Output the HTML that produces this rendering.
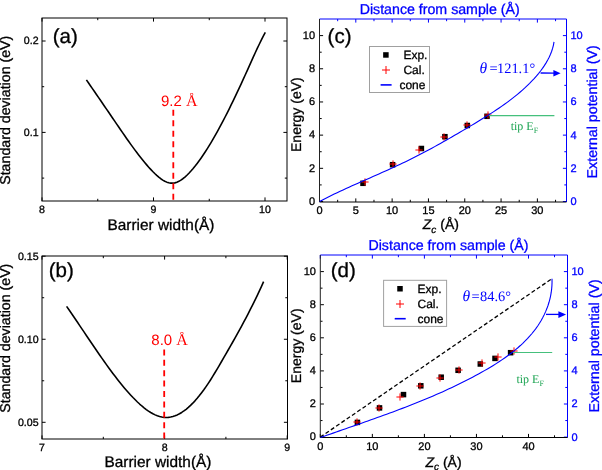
<!DOCTYPE html>
<html><head><meta charset="utf-8"><style>
html,body{margin:0;padding:0;background:#fff;width:602px;height:470px;overflow:hidden}
svg{display:block;will-change:transform}
text{stroke-width:0.3px}
</style></head><body>
<svg width="602" height="470" viewBox="0 0 602 470" text-rendering="geometricPrecision">
<rect width="602" height="470" fill="#fff"/>
<line x1="42.00" y1="201.00" x2="42.00" y2="197.40" stroke="#000" stroke-width="1" />
<line x1="42.00" y1="18.00" x2="42.00" y2="21.60" stroke="#000" stroke-width="1" />
<text x="42.00" y="213.20" font-size="10.6" fill="#000" text-anchor="middle" font-family="Liberation Sans, sans-serif"  stroke="#000">8</text>
<line x1="153.50" y1="201.00" x2="153.50" y2="197.40" stroke="#000" stroke-width="1" />
<line x1="153.50" y1="18.00" x2="153.50" y2="21.60" stroke="#000" stroke-width="1" />
<text x="153.50" y="213.20" font-size="10.6" fill="#000" text-anchor="middle" font-family="Liberation Sans, sans-serif"  stroke="#000">9</text>
<line x1="265.00" y1="201.00" x2="265.00" y2="197.40" stroke="#000" stroke-width="1" />
<line x1="265.00" y1="18.00" x2="265.00" y2="21.60" stroke="#000" stroke-width="1" />
<text x="265.00" y="213.20" font-size="10.6" fill="#000" text-anchor="middle" font-family="Liberation Sans, sans-serif"  stroke="#000">10</text>
<line x1="97.75" y1="201.00" x2="97.75" y2="198.80" stroke="#000" stroke-width="1" />
<line x1="97.75" y1="18.00" x2="97.75" y2="20.20" stroke="#000" stroke-width="1" />
<line x1="209.25" y1="201.00" x2="209.25" y2="198.80" stroke="#000" stroke-width="1" />
<line x1="209.25" y1="18.00" x2="209.25" y2="20.20" stroke="#000" stroke-width="1" />
<line x1="42.00" y1="132.40" x2="45.60" y2="132.40" stroke="#000" stroke-width="1" />
<line x1="287.00" y1="132.40" x2="283.40" y2="132.40" stroke="#000" stroke-width="1" />
<text x="38.60" y="135.60" font-size="10.6" fill="#000" text-anchor="end" font-family="Liberation Sans, sans-serif"  stroke="#000">0.1</text>
<line x1="42.00" y1="41.00" x2="45.60" y2="41.00" stroke="#000" stroke-width="1" />
<line x1="287.00" y1="41.00" x2="283.40" y2="41.00" stroke="#000" stroke-width="1" />
<text x="38.60" y="44.20" font-size="10.6" fill="#000" text-anchor="end" font-family="Liberation Sans, sans-serif"  stroke="#000">0.2</text>
<line x1="42.00" y1="178.10" x2="44.20" y2="178.10" stroke="#000" stroke-width="1" />
<line x1="287.00" y1="178.10" x2="284.80" y2="178.10" stroke="#000" stroke-width="1" />
<line x1="42.00" y1="86.70" x2="44.20" y2="86.70" stroke="#000" stroke-width="1" />
<line x1="287.00" y1="86.70" x2="284.80" y2="86.70" stroke="#000" stroke-width="1" />
<rect x="42" y="18" width="245" height="183" fill="none" stroke="#000" stroke-width="1"/>
<text x="161.00" y="229.60" font-size="15.4" fill="#000" text-anchor="middle" font-family="Liberation Sans, sans-serif"  stroke="#000">Barrier width(Å)</text>
<text transform="translate(10.3,110.25) rotate(-90)" font-size="14.2" text-anchor="middle" font-family="Liberation Sans, sans-serif" stroke="#000">Standard deviation (eV)</text>
<text x="52.80" y="43.20" font-size="20.5" fill="#000" text-anchor="start" font-family="Liberation Sans, sans-serif"  stroke="#000">(a)</text>
<path d="M86.40,79.89 L88.41,82.79 L90.42,85.70 L92.43,88.61 L94.44,91.53 L96.45,94.46 L98.46,97.38 L100.47,100.32 L102.48,103.25 L104.49,106.19 L106.50,109.13 L108.51,112.07 L110.52,115.02 L112.53,117.97 L114.54,120.92 L116.55,123.86 L118.56,126.81 L120.57,129.74 L122.58,132.67 L124.59,135.57 L126.60,138.45 L128.61,141.30 L130.62,144.12 L132.63,146.90 L134.64,149.63 L136.65,152.32 L138.66,154.96 L140.67,157.53 L142.68,160.05 L144.69,162.50 L146.70,164.87 L148.71,167.17 L150.72,169.38 L152.73,171.51 L154.74,173.53 L156.75,175.42 L158.76,177.16 L160.77,178.73 L162.78,180.09 L164.79,181.24 L166.80,182.14 L168.81,182.78 L170.82,183.13 L172.83,183.17 L174.84,182.88 L176.86,182.26 L178.87,181.35 L180.88,180.17 L182.89,178.74 L184.90,177.08 L186.91,175.22 L188.92,173.19 L190.93,171.00 L192.94,168.68 L194.95,166.23 L196.96,163.66 L198.97,160.97 L200.98,158.17 L202.99,155.26 L205.00,152.24 L207.01,149.12 L209.02,145.90 L211.03,142.59 L213.04,139.18 L215.05,135.68 L217.06,132.10 L219.07,128.44 L221.08,124.69 L223.09,120.88 L225.10,117.00 L227.11,113.05 L229.12,109.03 L231.13,104.96 L233.14,100.83 L235.15,96.65 L237.16,92.41 L239.17,88.13 L241.18,83.80 L243.19,79.43 L245.20,75.02 L247.21,70.57 L249.22,66.10 L251.23,61.62 L253.24,57.17 L255.25,52.78 L257.26,48.46 L259.27,44.25 L261.28,40.16 L263.29,36.24 L265.30,32.49" fill="none" stroke="#000" stroke-width="1.6" stroke-linejoin="round"/>
<line x1="173.3" y1="109.8" x2="173.3" y2="201" stroke="#ff0000" stroke-width="1.8" stroke-dasharray="6,4.5"/>
<text x="161.0" y="106.1" font-size="15" fill="#ff0000" font-family="Liberation Sans, sans-serif">9.2 <tspan font-family="Liberation Serif, serif" font-size="16">Å</tspan></text>
<line x1="42.00" y1="439.00" x2="42.00" y2="435.40" stroke="#000" stroke-width="1" />
<line x1="42.00" y1="256.00" x2="42.00" y2="259.60" stroke="#000" stroke-width="1" />
<text x="42.00" y="451.00" font-size="10.6" fill="#000" text-anchor="middle" font-family="Liberation Sans, sans-serif"  stroke="#000">7</text>
<line x1="164.60" y1="439.00" x2="164.60" y2="435.40" stroke="#000" stroke-width="1" />
<line x1="164.60" y1="256.00" x2="164.60" y2="259.60" stroke="#000" stroke-width="1" />
<text x="164.60" y="451.00" font-size="10.6" fill="#000" text-anchor="middle" font-family="Liberation Sans, sans-serif"  stroke="#000">8</text>
<line x1="287.20" y1="439.00" x2="287.20" y2="435.40" stroke="#000" stroke-width="1" />
<line x1="287.20" y1="256.00" x2="287.20" y2="259.60" stroke="#000" stroke-width="1" />
<text x="287.20" y="451.00" font-size="10.6" fill="#000" text-anchor="middle" font-family="Liberation Sans, sans-serif"  stroke="#000">9</text>
<line x1="103.30" y1="439.00" x2="103.30" y2="436.80" stroke="#000" stroke-width="1" />
<line x1="103.30" y1="256.00" x2="103.30" y2="258.20" stroke="#000" stroke-width="1" />
<line x1="225.90" y1="439.00" x2="225.90" y2="436.80" stroke="#000" stroke-width="1" />
<line x1="225.90" y1="256.00" x2="225.90" y2="258.20" stroke="#000" stroke-width="1" />
<line x1="42.00" y1="422.30" x2="45.60" y2="422.30" stroke="#000" stroke-width="1" />
<line x1="287.50" y1="422.30" x2="283.90" y2="422.30" stroke="#000" stroke-width="1" />
<text x="38.60" y="425.80" font-size="10.6" fill="#000" text-anchor="end" font-family="Liberation Sans, sans-serif"  stroke="#000">0.05</text>
<line x1="42.00" y1="339.25" x2="45.60" y2="339.25" stroke="#000" stroke-width="1" />
<line x1="287.50" y1="339.25" x2="283.90" y2="339.25" stroke="#000" stroke-width="1" />
<text x="38.60" y="342.75" font-size="10.6" fill="#000" text-anchor="end" font-family="Liberation Sans, sans-serif"  stroke="#000">0.10</text>
<line x1="42.00" y1="256.20" x2="45.60" y2="256.20" stroke="#000" stroke-width="1" />
<line x1="287.50" y1="256.20" x2="283.90" y2="256.20" stroke="#000" stroke-width="1" />
<text x="38.60" y="259.70" font-size="10.6" fill="#000" text-anchor="end" font-family="Liberation Sans, sans-serif"  stroke="#000">0.15</text>
<line x1="42.00" y1="380.77" x2="44.20" y2="380.77" stroke="#000" stroke-width="1" />
<line x1="287.50" y1="380.77" x2="285.30" y2="380.77" stroke="#000" stroke-width="1" />
<line x1="42.00" y1="297.72" x2="44.20" y2="297.72" stroke="#000" stroke-width="1" />
<line x1="287.50" y1="297.72" x2="285.30" y2="297.72" stroke="#000" stroke-width="1" />
<rect x="42" y="256" width="245.5" height="183" fill="none" stroke="#000" stroke-width="1"/>
<text x="158.00" y="466.70" font-size="15.4" fill="#000" text-anchor="middle" font-family="Liberation Sans, sans-serif"  stroke="#000">Barrier width(Å)</text>
<text transform="translate(10.3,338.2) rotate(-90)" font-size="14.2" text-anchor="middle" font-family="Liberation Sans, sans-serif" stroke="#000">Standard deviation (eV)</text>
<text x="48.80" y="277.00" font-size="20.5" fill="#000" text-anchor="start" font-family="Liberation Sans, sans-serif"  stroke="#000">(b)</text>
<path d="M66.60,306.39 L68.81,309.57 L71.03,312.79 L73.24,316.02 L75.45,319.28 L77.67,322.55 L79.88,325.83 L82.09,329.12 L84.31,332.41 L86.52,335.70 L88.73,338.99 L90.95,342.27 L93.16,345.53 L95.38,348.78 L97.59,352.01 L99.80,355.21 L102.02,358.38 L104.23,361.52 L106.44,364.63 L108.66,367.69 L110.87,370.71 L113.08,373.68 L115.30,376.59 L117.51,379.45 L119.72,382.25 L121.94,384.98 L124.15,387.65 L126.36,390.24 L128.58,392.75 L130.79,395.19 L133.00,397.54 L135.22,399.79 L137.43,401.96 L139.64,404.03 L141.86,405.99 L144.07,407.82 L146.29,409.53 L148.50,411.10 L150.71,412.52 L152.93,413.79 L155.14,414.88 L157.35,415.80 L159.57,416.53 L161.78,417.06 L163.99,417.38 L166.21,417.49 L168.42,417.38 L170.63,417.07 L172.85,416.54 L175.06,415.82 L177.27,414.89 L179.49,413.77 L181.70,412.46 L183.91,410.96 L186.13,409.28 L188.34,407.43 L190.56,405.40 L192.77,403.19 L194.98,400.83 L197.20,398.30 L199.41,395.61 L201.62,392.76 L203.84,389.77 L206.05,386.63 L208.26,383.35 L210.48,379.94 L212.69,376.41 L214.90,372.79 L217.12,369.08 L219.33,365.32 L221.54,361.52 L223.76,357.70 L225.97,353.86 L228.18,350.01 L230.40,346.15 L232.61,342.26 L234.82,338.33 L237.04,334.37 L239.25,330.37 L241.47,326.31 L243.68,322.20 L245.89,318.03 L248.11,313.79 L250.32,309.48 L252.53,305.08 L254.75,300.60 L256.96,296.03 L259.17,291.36 L261.39,286.59 L263.60,281.70" fill="none" stroke="#000" stroke-width="1.6" stroke-linejoin="round"/>
<line x1="164.2" y1="349.4" x2="164.2" y2="438.8" stroke="#ff0000" stroke-width="1.8" stroke-dasharray="6,4.4"/>
<text x="151.3" y="345.1" font-size="15" fill="#ff0000" font-family="Liberation Sans, sans-serif">8.0 <tspan font-family="Liberation Serif, serif" font-size="16">Å</tspan></text>
<line x1="319.50" y1="202.00" x2="319.50" y2="198.40" stroke="#000" stroke-width="1" />
<text x="319.50" y="214.00" font-size="11" fill="#000" text-anchor="middle" font-family="Liberation Sans, sans-serif"  stroke="#000">0</text>
<line x1="319.50" y1="19.00" x2="319.50" y2="22.60" stroke="#0000ff" stroke-width="1" />
<line x1="355.81" y1="202.00" x2="355.81" y2="198.40" stroke="#000" stroke-width="1" />
<text x="355.81" y="214.00" font-size="11" fill="#000" text-anchor="middle" font-family="Liberation Sans, sans-serif"  stroke="#000">5</text>
<line x1="355.81" y1="19.00" x2="355.81" y2="22.60" stroke="#0000ff" stroke-width="1" />
<line x1="392.13" y1="202.00" x2="392.13" y2="198.40" stroke="#000" stroke-width="1" />
<text x="392.13" y="214.00" font-size="11" fill="#000" text-anchor="middle" font-family="Liberation Sans, sans-serif"  stroke="#000">10</text>
<line x1="392.13" y1="19.00" x2="392.13" y2="22.60" stroke="#0000ff" stroke-width="1" />
<line x1="428.44" y1="202.00" x2="428.44" y2="198.40" stroke="#000" stroke-width="1" />
<text x="428.44" y="214.00" font-size="11" fill="#000" text-anchor="middle" font-family="Liberation Sans, sans-serif"  stroke="#000">15</text>
<line x1="428.44" y1="19.00" x2="428.44" y2="22.60" stroke="#0000ff" stroke-width="1" />
<line x1="464.76" y1="202.00" x2="464.76" y2="198.40" stroke="#000" stroke-width="1" />
<text x="464.76" y="214.00" font-size="11" fill="#000" text-anchor="middle" font-family="Liberation Sans, sans-serif"  stroke="#000">20</text>
<line x1="464.76" y1="19.00" x2="464.76" y2="22.60" stroke="#0000ff" stroke-width="1" />
<line x1="501.07" y1="202.00" x2="501.07" y2="198.40" stroke="#000" stroke-width="1" />
<text x="501.07" y="214.00" font-size="11" fill="#000" text-anchor="middle" font-family="Liberation Sans, sans-serif"  stroke="#000">25</text>
<line x1="501.07" y1="19.00" x2="501.07" y2="22.60" stroke="#0000ff" stroke-width="1" />
<line x1="537.39" y1="202.00" x2="537.39" y2="198.40" stroke="#000" stroke-width="1" />
<text x="537.39" y="214.00" font-size="11" fill="#000" text-anchor="middle" font-family="Liberation Sans, sans-serif"  stroke="#000">30</text>
<line x1="537.39" y1="19.00" x2="537.39" y2="22.60" stroke="#0000ff" stroke-width="1" />
<line x1="337.66" y1="202.00" x2="337.66" y2="199.80" stroke="#000" stroke-width="1" />
<line x1="337.66" y1="19.00" x2="337.66" y2="21.20" stroke="#0000ff" stroke-width="1" />
<line x1="373.97" y1="202.00" x2="373.97" y2="199.80" stroke="#000" stroke-width="1" />
<line x1="373.97" y1="19.00" x2="373.97" y2="21.20" stroke="#0000ff" stroke-width="1" />
<line x1="410.29" y1="202.00" x2="410.29" y2="199.80" stroke="#000" stroke-width="1" />
<line x1="410.29" y1="19.00" x2="410.29" y2="21.20" stroke="#0000ff" stroke-width="1" />
<line x1="446.60" y1="202.00" x2="446.60" y2="199.80" stroke="#000" stroke-width="1" />
<line x1="446.60" y1="19.00" x2="446.60" y2="21.20" stroke="#0000ff" stroke-width="1" />
<line x1="482.92" y1="202.00" x2="482.92" y2="199.80" stroke="#000" stroke-width="1" />
<line x1="482.92" y1="19.00" x2="482.92" y2="21.20" stroke="#0000ff" stroke-width="1" />
<line x1="519.23" y1="202.00" x2="519.23" y2="199.80" stroke="#000" stroke-width="1" />
<line x1="519.23" y1="19.00" x2="519.23" y2="21.20" stroke="#0000ff" stroke-width="1" />
<line x1="555.55" y1="202.00" x2="555.55" y2="199.80" stroke="#000" stroke-width="1" />
<line x1="555.55" y1="19.00" x2="555.55" y2="21.20" stroke="#0000ff" stroke-width="1" />
<line x1="319.50" y1="201.50" x2="323.10" y2="201.50" stroke="#000" stroke-width="1" />
<text x="315.10" y="204.80" font-size="11" fill="#000" text-anchor="end" font-family="Liberation Sans, sans-serif"  stroke="#000">0</text>
<line x1="566.50" y1="201.50" x2="562.90" y2="201.50" stroke="#0000ff" stroke-width="1" />
<text x="570.50" y="204.90" font-size="11" fill="#0000ff" text-anchor="start" font-family="Liberation Sans, sans-serif"  stroke="#0000ff">0</text>
<line x1="319.50" y1="168.32" x2="323.10" y2="168.32" stroke="#000" stroke-width="1" />
<text x="315.10" y="171.62" font-size="11" fill="#000" text-anchor="end" font-family="Liberation Sans, sans-serif"  stroke="#000">2</text>
<line x1="566.50" y1="168.32" x2="562.90" y2="168.32" stroke="#0000ff" stroke-width="1" />
<text x="570.50" y="171.72" font-size="11" fill="#0000ff" text-anchor="start" font-family="Liberation Sans, sans-serif"  stroke="#0000ff">2</text>
<line x1="319.50" y1="135.14" x2="323.10" y2="135.14" stroke="#000" stroke-width="1" />
<text x="315.10" y="138.44" font-size="11" fill="#000" text-anchor="end" font-family="Liberation Sans, sans-serif"  stroke="#000">4</text>
<line x1="566.50" y1="135.14" x2="562.90" y2="135.14" stroke="#0000ff" stroke-width="1" />
<text x="570.50" y="138.54" font-size="11" fill="#0000ff" text-anchor="start" font-family="Liberation Sans, sans-serif"  stroke="#0000ff">4</text>
<line x1="319.50" y1="101.96" x2="323.10" y2="101.96" stroke="#000" stroke-width="1" />
<text x="315.10" y="105.26" font-size="11" fill="#000" text-anchor="end" font-family="Liberation Sans, sans-serif"  stroke="#000">6</text>
<line x1="566.50" y1="101.96" x2="562.90" y2="101.96" stroke="#0000ff" stroke-width="1" />
<text x="570.50" y="105.36" font-size="11" fill="#0000ff" text-anchor="start" font-family="Liberation Sans, sans-serif"  stroke="#0000ff">6</text>
<line x1="319.50" y1="68.78" x2="323.10" y2="68.78" stroke="#000" stroke-width="1" />
<text x="315.10" y="72.08" font-size="11" fill="#000" text-anchor="end" font-family="Liberation Sans, sans-serif"  stroke="#000">8</text>
<line x1="566.50" y1="68.78" x2="562.90" y2="68.78" stroke="#0000ff" stroke-width="1" />
<text x="570.50" y="72.18" font-size="11" fill="#0000ff" text-anchor="start" font-family="Liberation Sans, sans-serif"  stroke="#0000ff">8</text>
<line x1="319.50" y1="35.60" x2="323.10" y2="35.60" stroke="#000" stroke-width="1" />
<text x="315.10" y="38.90" font-size="11" fill="#000" text-anchor="end" font-family="Liberation Sans, sans-serif"  stroke="#000">10</text>
<line x1="566.50" y1="35.60" x2="562.90" y2="35.60" stroke="#0000ff" stroke-width="1" />
<text x="570.50" y="39.00" font-size="11" fill="#0000ff" text-anchor="start" font-family="Liberation Sans, sans-serif"  stroke="#0000ff">10</text>
<line x1="319.50" y1="184.91" x2="321.70" y2="184.91" stroke="#000" stroke-width="1" />
<line x1="566.50" y1="184.91" x2="564.30" y2="184.91" stroke="#0000ff" stroke-width="1" />
<line x1="319.50" y1="151.73" x2="321.70" y2="151.73" stroke="#000" stroke-width="1" />
<line x1="566.50" y1="151.73" x2="564.30" y2="151.73" stroke="#0000ff" stroke-width="1" />
<line x1="319.50" y1="118.55" x2="321.70" y2="118.55" stroke="#000" stroke-width="1" />
<line x1="566.50" y1="118.55" x2="564.30" y2="118.55" stroke="#0000ff" stroke-width="1" />
<line x1="319.50" y1="85.37" x2="321.70" y2="85.37" stroke="#000" stroke-width="1" />
<line x1="566.50" y1="85.37" x2="564.30" y2="85.37" stroke="#0000ff" stroke-width="1" />
<line x1="319.50" y1="52.19" x2="321.70" y2="52.19" stroke="#000" stroke-width="1" />
<line x1="566.50" y1="52.19" x2="564.30" y2="52.19" stroke="#0000ff" stroke-width="1" />
<line x1="319.50" y1="19.00" x2="566.50" y2="19.00" stroke="#0000ff" stroke-width="1" />
<line x1="566.50" y1="19.00" x2="566.50" y2="202.00" stroke="#0000ff" stroke-width="1" />
<line x1="319.50" y1="19.00" x2="319.50" y2="202.00" stroke="#222" stroke-width="1" />
<line x1="319.50" y1="202.00" x2="566.50" y2="202.00" stroke="#000" stroke-width="1" />
<line x1="320.30" y1="437.50" x2="320.30" y2="433.90" stroke="#000" stroke-width="1" />
<text x="320.30" y="449.50" font-size="11" fill="#000" text-anchor="middle" font-family="Liberation Sans, sans-serif"  stroke="#000">0</text>
<line x1="320.30" y1="255.00" x2="320.30" y2="258.60" stroke="#0000ff" stroke-width="1" />
<line x1="372.35" y1="437.50" x2="372.35" y2="433.90" stroke="#000" stroke-width="1" />
<text x="372.35" y="449.50" font-size="11" fill="#000" text-anchor="middle" font-family="Liberation Sans, sans-serif"  stroke="#000">10</text>
<line x1="372.35" y1="255.00" x2="372.35" y2="258.60" stroke="#0000ff" stroke-width="1" />
<line x1="424.40" y1="437.50" x2="424.40" y2="433.90" stroke="#000" stroke-width="1" />
<text x="424.40" y="449.50" font-size="11" fill="#000" text-anchor="middle" font-family="Liberation Sans, sans-serif"  stroke="#000">20</text>
<line x1="424.40" y1="255.00" x2="424.40" y2="258.60" stroke="#0000ff" stroke-width="1" />
<line x1="476.45" y1="437.50" x2="476.45" y2="433.90" stroke="#000" stroke-width="1" />
<text x="476.45" y="449.50" font-size="11" fill="#000" text-anchor="middle" font-family="Liberation Sans, sans-serif"  stroke="#000">30</text>
<line x1="476.45" y1="255.00" x2="476.45" y2="258.60" stroke="#0000ff" stroke-width="1" />
<line x1="528.50" y1="437.50" x2="528.50" y2="433.90" stroke="#000" stroke-width="1" />
<text x="528.50" y="449.50" font-size="11" fill="#000" text-anchor="middle" font-family="Liberation Sans, sans-serif"  stroke="#000">40</text>
<line x1="528.50" y1="255.00" x2="528.50" y2="258.60" stroke="#0000ff" stroke-width="1" />
<line x1="346.32" y1="437.50" x2="346.32" y2="435.30" stroke="#000" stroke-width="1" />
<line x1="346.32" y1="255.00" x2="346.32" y2="257.20" stroke="#0000ff" stroke-width="1" />
<line x1="398.38" y1="437.50" x2="398.38" y2="435.30" stroke="#000" stroke-width="1" />
<line x1="398.38" y1="255.00" x2="398.38" y2="257.20" stroke="#0000ff" stroke-width="1" />
<line x1="450.43" y1="437.50" x2="450.43" y2="435.30" stroke="#000" stroke-width="1" />
<line x1="450.43" y1="255.00" x2="450.43" y2="257.20" stroke="#0000ff" stroke-width="1" />
<line x1="502.48" y1="437.50" x2="502.48" y2="435.30" stroke="#000" stroke-width="1" />
<line x1="502.48" y1="255.00" x2="502.48" y2="257.20" stroke="#0000ff" stroke-width="1" />
<line x1="554.52" y1="437.50" x2="554.52" y2="435.30" stroke="#000" stroke-width="1" />
<line x1="554.52" y1="255.00" x2="554.52" y2="257.20" stroke="#0000ff" stroke-width="1" />
<line x1="320.30" y1="437.10" x2="323.90" y2="437.10" stroke="#000" stroke-width="1" />
<text x="315.90" y="440.40" font-size="11" fill="#000" text-anchor="end" font-family="Liberation Sans, sans-serif"  stroke="#000">0</text>
<line x1="567.50" y1="437.10" x2="563.90" y2="437.10" stroke="#0000ff" stroke-width="1" />
<text x="571.50" y="440.50" font-size="11" fill="#0000ff" text-anchor="start" font-family="Liberation Sans, sans-serif"  stroke="#0000ff">0</text>
<line x1="320.30" y1="404.00" x2="323.90" y2="404.00" stroke="#000" stroke-width="1" />
<text x="315.90" y="407.30" font-size="11" fill="#000" text-anchor="end" font-family="Liberation Sans, sans-serif"  stroke="#000">2</text>
<line x1="567.50" y1="404.00" x2="563.90" y2="404.00" stroke="#0000ff" stroke-width="1" />
<text x="571.50" y="407.40" font-size="11" fill="#0000ff" text-anchor="start" font-family="Liberation Sans, sans-serif"  stroke="#0000ff">2</text>
<line x1="320.30" y1="370.90" x2="323.90" y2="370.90" stroke="#000" stroke-width="1" />
<text x="315.90" y="374.20" font-size="11" fill="#000" text-anchor="end" font-family="Liberation Sans, sans-serif"  stroke="#000">4</text>
<line x1="567.50" y1="370.90" x2="563.90" y2="370.90" stroke="#0000ff" stroke-width="1" />
<text x="571.50" y="374.30" font-size="11" fill="#0000ff" text-anchor="start" font-family="Liberation Sans, sans-serif"  stroke="#0000ff">4</text>
<line x1="320.30" y1="337.80" x2="323.90" y2="337.80" stroke="#000" stroke-width="1" />
<text x="315.90" y="341.10" font-size="11" fill="#000" text-anchor="end" font-family="Liberation Sans, sans-serif"  stroke="#000">6</text>
<line x1="567.50" y1="337.80" x2="563.90" y2="337.80" stroke="#0000ff" stroke-width="1" />
<text x="571.50" y="341.20" font-size="11" fill="#0000ff" text-anchor="start" font-family="Liberation Sans, sans-serif"  stroke="#0000ff">6</text>
<line x1="320.30" y1="304.70" x2="323.90" y2="304.70" stroke="#000" stroke-width="1" />
<text x="315.90" y="308.00" font-size="11" fill="#000" text-anchor="end" font-family="Liberation Sans, sans-serif"  stroke="#000">8</text>
<line x1="567.50" y1="304.70" x2="563.90" y2="304.70" stroke="#0000ff" stroke-width="1" />
<text x="571.50" y="308.10" font-size="11" fill="#0000ff" text-anchor="start" font-family="Liberation Sans, sans-serif"  stroke="#0000ff">8</text>
<line x1="320.30" y1="271.60" x2="323.90" y2="271.60" stroke="#000" stroke-width="1" />
<text x="315.90" y="274.90" font-size="11" fill="#000" text-anchor="end" font-family="Liberation Sans, sans-serif"  stroke="#000">10</text>
<line x1="567.50" y1="271.60" x2="563.90" y2="271.60" stroke="#0000ff" stroke-width="1" />
<text x="571.50" y="275.00" font-size="11" fill="#0000ff" text-anchor="start" font-family="Liberation Sans, sans-serif"  stroke="#0000ff">10</text>
<line x1="320.30" y1="420.55" x2="322.50" y2="420.55" stroke="#000" stroke-width="1" />
<line x1="567.50" y1="420.55" x2="565.30" y2="420.55" stroke="#0000ff" stroke-width="1" />
<line x1="320.30" y1="387.45" x2="322.50" y2="387.45" stroke="#000" stroke-width="1" />
<line x1="567.50" y1="387.45" x2="565.30" y2="387.45" stroke="#0000ff" stroke-width="1" />
<line x1="320.30" y1="354.35" x2="322.50" y2="354.35" stroke="#000" stroke-width="1" />
<line x1="567.50" y1="354.35" x2="565.30" y2="354.35" stroke="#0000ff" stroke-width="1" />
<line x1="320.30" y1="321.25" x2="322.50" y2="321.25" stroke="#000" stroke-width="1" />
<line x1="567.50" y1="321.25" x2="565.30" y2="321.25" stroke="#0000ff" stroke-width="1" />
<line x1="320.30" y1="288.15" x2="322.50" y2="288.15" stroke="#000" stroke-width="1" />
<line x1="567.50" y1="288.15" x2="565.30" y2="288.15" stroke="#0000ff" stroke-width="1" />
<line x1="320.30" y1="255.00" x2="567.50" y2="255.00" stroke="#0000ff" stroke-width="1" />
<line x1="567.50" y1="255.00" x2="567.50" y2="437.50" stroke="#0000ff" stroke-width="1" />
<line x1="320.30" y1="255.00" x2="320.30" y2="437.50" stroke="#222" stroke-width="1" />
<line x1="320.30" y1="437.50" x2="567.50" y2="437.50" stroke="#000" stroke-width="1" />
<text x="439.70" y="13.60" font-size="14.2" fill="#0000ff" text-anchor="middle" font-family="Liberation Sans, sans-serif"  stroke="#0000ff">Distance from sample (Å)</text>
<text x="448.50" y="249.60" font-size="14.2" fill="#0000ff" text-anchor="middle" font-family="Liberation Sans, sans-serif"  stroke="#0000ff">Distance from sample (Å)</text>
<text transform="translate(301.2,114.65) rotate(-90)" font-size="14" text-anchor="middle" font-family="Liberation Sans, sans-serif" stroke="#000">Energy (eV)</text>
<text transform="translate(301.2,345.8) rotate(-90)" font-size="14" text-anchor="middle" font-family="Liberation Sans, sans-serif" stroke="#000">Energy (eV)</text>
<text transform="translate(597.3,111.9) rotate(-90)" font-size="14.25" fill="#0000ff" text-anchor="middle" font-family="Liberation Sans, sans-serif" stroke="#0000ff">External potential (V)</text>
<text transform="translate(599.2,345.9) rotate(-90)" font-size="14.25" fill="#0000ff" text-anchor="middle" font-family="Liberation Sans, sans-serif" stroke="#0000ff">External potential (V)</text>
<text x="422.8" y="229.4" font-size="14" font-family="Liberation Sans, sans-serif" stroke="#000"><tspan font-style="italic">Z</tspan><tspan font-style="italic" font-size="10" dy="3.2">c</tspan><tspan dy="-3.2"> (Å)</tspan></text>
<text x="425.5" y="466.6" font-size="14" font-family="Liberation Sans, sans-serif" stroke="#000"><tspan font-style="italic">Z</tspan><tspan font-style="italic" font-size="10" dy="3.2">c</tspan><tspan dy="-3.2"> (Å)</tspan></text>
<text x="327.60" y="42.90" font-size="20.5" fill="#000" text-anchor="start" font-family="Liberation Sans, sans-serif"  stroke="#000">(c)</text>
<text x="330.70" y="277.10" font-size="20.5" fill="#000" text-anchor="start" font-family="Liberation Sans, sans-serif"  stroke="#000">(d)</text>
<rect x="369.5" y="46.5" width="60" height="46" fill="#fff" stroke="#a0a0a0" stroke-width="1"/>
<rect x="383.15" y="52.20" width="5.5" height="5.5" fill="#000"/>
<line x1="382.00" y1="70.00" x2="390.00" y2="70.00" stroke="#ff0000" stroke-width="1" />
<line x1="386.00" y1="66.00" x2="386.00" y2="74.00" stroke="#ff0000" stroke-width="1" />
<line x1="380.60" y1="84.90" x2="391.60" y2="84.90" stroke="#0000ff" stroke-width="1.6" />
<text x="403.40" y="58.70" font-size="12" fill="#000" text-anchor="start" font-family="Liberation Sans, sans-serif"  stroke="#000">Exp.</text>
<text x="403.40" y="73.90" font-size="12" fill="#000" text-anchor="start" font-family="Liberation Sans, sans-serif"  stroke="#000">Cal.</text>
<text x="399.40" y="88.90" font-size="12" fill="#000" text-anchor="start" font-family="Liberation Sans, sans-serif"  stroke="#000">cone</text>
<rect x="383.6" y="280.3" width="63" height="46.1" fill="#fff" stroke="#a0a0a0" stroke-width="1"/>
<rect x="397.25" y="286.00" width="5.5" height="5.5" fill="#000"/>
<line x1="396.00" y1="304.00" x2="404.00" y2="304.00" stroke="#ff0000" stroke-width="1" />
<line x1="400.00" y1="300.00" x2="400.00" y2="308.00" stroke="#ff0000" stroke-width="1" />
<line x1="394.70" y1="318.70" x2="405.70" y2="318.70" stroke="#0000ff" stroke-width="1.6" />
<text x="417.50" y="292.50" font-size="12" fill="#000" text-anchor="start" font-family="Liberation Sans, sans-serif"  stroke="#000">Exp.</text>
<text x="417.50" y="307.70" font-size="12" fill="#000" text-anchor="start" font-family="Liberation Sans, sans-serif"  stroke="#000">Cal.</text>
<text x="417.50" y="322.70" font-size="12" fill="#000" text-anchor="start" font-family="Liberation Sans, sans-serif"  stroke="#000">cone</text>
<rect x="360.25" y="180.55" width="5.5" height="5.5" fill="#000"/>
<rect x="389.85" y="161.95" width="5.5" height="5.5" fill="#000"/>
<rect x="418.65" y="145.75" width="5.5" height="5.5" fill="#000"/>
<rect x="442.15" y="133.95" width="5.5" height="5.5" fill="#000"/>
<rect x="464.55" y="122.75" width="5.5" height="5.5" fill="#000"/>
<rect x="484.25" y="113.55" width="5.5" height="5.5" fill="#000"/>
<line x1="361.40" y1="182.00" x2="368.60" y2="182.00" stroke="#ff0000" stroke-width="1" />
<line x1="365.00" y1="178.40" x2="365.00" y2="185.60" stroke="#ff0000" stroke-width="1" />
<line x1="389.40" y1="164.00" x2="396.60" y2="164.00" stroke="#ff0000" stroke-width="1" />
<line x1="393.00" y1="160.40" x2="393.00" y2="167.60" stroke="#ff0000" stroke-width="1" />
<line x1="415.40" y1="150.00" x2="422.60" y2="150.00" stroke="#ff0000" stroke-width="1" />
<line x1="419.00" y1="146.40" x2="419.00" y2="153.60" stroke="#ff0000" stroke-width="1" />
<line x1="440.40" y1="137.00" x2="447.60" y2="137.00" stroke="#ff0000" stroke-width="1" />
<line x1="444.00" y1="133.40" x2="444.00" y2="140.60" stroke="#ff0000" stroke-width="1" />
<line x1="463.40" y1="125.00" x2="470.60" y2="125.00" stroke="#ff0000" stroke-width="1" />
<line x1="467.00" y1="121.40" x2="467.00" y2="128.60" stroke="#ff0000" stroke-width="1" />
<line x1="484.40" y1="115.00" x2="491.60" y2="115.00" stroke="#ff0000" stroke-width="1" />
<line x1="488.00" y1="111.40" x2="488.00" y2="118.60" stroke="#ff0000" stroke-width="1" />
<path d="M319.60,201.50 L322.50,199.97 L325.42,198.47 L328.34,197.00 L331.28,195.54 L334.22,194.10 L337.17,192.69 L340.13,191.29 L343.09,189.90 L346.06,188.53 L349.04,187.17 L352.02,185.83 L355.00,184.49 L357.99,183.16 L360.98,181.84 L363.97,180.52 L366.96,179.20 L369.96,177.89 L372.95,176.57 L375.94,175.25 L378.93,173.94 L381.92,172.61 L384.90,171.28 L387.88,169.94 L390.86,168.59 L393.83,167.24 L396.80,165.86 L399.76,164.48 L402.71,163.08 L405.65,161.66 L408.59,160.22 L411.52,158.77 L414.44,157.30 L417.36,155.82 L420.26,154.32 L423.16,152.81 L426.06,151.28 L428.94,149.74 L431.82,148.18 L434.70,146.62 L437.56,145.04 L440.42,143.45 L443.28,141.85 L446.13,140.24 L448.97,138.62 L451.81,136.99 L454.64,135.35 L457.47,133.70 L460.30,132.05 L463.11,130.38 L465.93,128.71 L468.74,127.04 L471.54,125.36 L474.35,123.67 L477.14,121.98 L479.93,120.28 L482.72,118.57 L485.49,116.85 L488.26,115.11 L491.01,113.36 L493.75,111.59 L496.47,109.80 L499.17,107.98 L501.85,106.13 L504.52,104.26 L507.16,102.35 L509.77,100.41 L512.36,98.43 L514.92,96.42 L517.45,94.36 L519.95,92.25 L522.42,90.10 L524.85,87.91 L527.24,85.65 L529.60,83.35 L531.91,80.99 L534.17,78.57 L536.37,76.09 L538.50,73.56 L540.54,70.98 L542.49,68.33 L544.34,65.63 L546.08,62.87 L547.69,60.05 L549.17,57.18 L550.50,54.24 L551.67,51.24 L552.66,48.17 L553.44,45.02 L554.00,41.80" fill="none" stroke="#0000ff" stroke-width="1.1"/>
<line x1="489.00" y1="115.60" x2="554.40" y2="115.60" stroke="#45c07c" stroke-width="1.1" />
<text y="72.8" fill="#0000ff" font-size="14.4" font-family="Liberation Serif, serif"><tspan x="479.6" font-style="italic" font-size="15.5">θ</tspan><tspan x="489.4">=</tspan><tspan x="497.0">121.1°</tspan></text>
<line x1="540.60" y1="73.00" x2="554.00" y2="73.20" stroke="#0000ff" stroke-width="1.3" />
<path d="M553.4,70 L560.6,73.2 L553.4,76.4 Z" fill="#0000ff"/>
<text x="510.7" y="130.4" font-size="12" fill="#1ca452" font-family="Liberation Serif, serif">tip E<tspan font-size="8" dy="2.6">F</tspan></text>
<line x1="320.3" y1="437.1" x2="552.2" y2="278.5" stroke="#000" stroke-width="1.3" stroke-dasharray="4,2.4"/>
<rect x="354.65" y="419.65" width="5.5" height="5.5" fill="#000"/>
<rect x="376.75" y="405.15" width="5.5" height="5.5" fill="#000"/>
<rect x="400.75" y="391.85" width="5.5" height="5.5" fill="#000"/>
<rect x="418.05" y="383.05" width="5.5" height="5.5" fill="#000"/>
<rect x="438.45" y="374.45" width="5.5" height="5.5" fill="#000"/>
<rect x="455.35" y="367.55" width="5.5" height="5.5" fill="#000"/>
<rect x="477.55" y="361.25" width="5.5" height="5.5" fill="#000"/>
<rect x="492.25" y="355.65" width="5.5" height="5.5" fill="#000"/>
<rect x="507.85" y="349.95" width="5.5" height="5.5" fill="#000"/>
<line x1="353.40" y1="422.00" x2="360.60" y2="422.00" stroke="#ff0000" stroke-width="1" />
<line x1="357.00" y1="418.40" x2="357.00" y2="425.60" stroke="#ff0000" stroke-width="1" />
<line x1="375.40" y1="408.00" x2="382.60" y2="408.00" stroke="#ff0000" stroke-width="1" />
<line x1="379.00" y1="404.40" x2="379.00" y2="411.60" stroke="#ff0000" stroke-width="1" />
<line x1="396.40" y1="397.00" x2="403.60" y2="397.00" stroke="#ff0000" stroke-width="1" />
<line x1="400.00" y1="393.40" x2="400.00" y2="400.60" stroke="#ff0000" stroke-width="1" />
<line x1="416.40" y1="386.00" x2="423.60" y2="386.00" stroke="#ff0000" stroke-width="1" />
<line x1="420.00" y1="382.40" x2="420.00" y2="389.60" stroke="#ff0000" stroke-width="1" />
<line x1="436.40" y1="378.00" x2="443.60" y2="378.00" stroke="#ff0000" stroke-width="1" />
<line x1="440.00" y1="374.40" x2="440.00" y2="381.60" stroke="#ff0000" stroke-width="1" />
<line x1="455.40" y1="370.00" x2="462.60" y2="370.00" stroke="#ff0000" stroke-width="1" />
<line x1="459.00" y1="366.40" x2="459.00" y2="373.60" stroke="#ff0000" stroke-width="1" />
<line x1="478.40" y1="363.00" x2="485.60" y2="363.00" stroke="#ff0000" stroke-width="1" />
<line x1="482.00" y1="359.40" x2="482.00" y2="366.60" stroke="#ff0000" stroke-width="1" />
<line x1="494.40" y1="357.00" x2="501.60" y2="357.00" stroke="#ff0000" stroke-width="1" />
<line x1="498.00" y1="353.40" x2="498.00" y2="360.60" stroke="#ff0000" stroke-width="1" />
<line x1="510.40" y1="351.00" x2="517.60" y2="351.00" stroke="#ff0000" stroke-width="1" />
<line x1="514.00" y1="347.40" x2="514.00" y2="354.60" stroke="#ff0000" stroke-width="1" />
<path d="M320.40,437.60 L323.57,436.47 L326.75,435.34 L329.92,434.22 L333.09,433.11 L336.26,432.00 L339.43,430.89 L342.60,429.78 L345.76,428.68 L348.92,427.58 L352.08,426.47 L355.24,425.37 L358.40,424.27 L361.55,423.16 L364.70,422.05 L367.85,420.94 L371.00,419.83 L374.14,418.71 L377.28,417.59 L380.42,416.47 L383.55,415.33 L386.68,414.19 L389.81,413.05 L392.93,411.90 L396.05,410.73 L399.17,409.56 L402.28,408.38 L405.39,407.19 L408.49,405.99 L411.59,404.78 L414.69,403.55 L417.78,402.32 L420.87,401.07 L423.95,399.80 L427.03,398.52 L430.10,397.23 L433.17,395.92 L436.24,394.59 L439.29,393.25 L442.35,391.89 L445.40,390.51 L448.44,389.11 L451.48,387.69 L454.51,386.26 L457.53,384.80 L460.55,383.32 L463.57,381.81 L466.57,380.29 L469.57,378.74 L472.57,377.17 L475.56,375.57 L478.54,373.95 L481.52,372.30 L484.48,370.63 L487.43,368.92 L490.36,367.19 L493.27,365.42 L496.16,363.61 L499.02,361.77 L501.84,359.89 L504.63,357.98 L507.37,356.02 L510.07,354.01 L512.73,351.97 L515.33,349.87 L517.88,347.73 L520.37,345.53 L522.79,343.28 L525.15,340.98 L527.44,338.63 L529.65,336.21 L531.79,333.74 L533.85,331.21 L535.82,328.61 L537.70,325.95 L539.48,323.22 L541.17,320.42 L542.77,317.56 L544.25,314.63 L545.62,311.63 L546.88,308.58 L548.01,305.46 L549.01,302.29 L549.88,299.07 L550.61,295.79 L551.20,292.46 L551.64,289.08 L551.92,285.66 L552.05,282.20 L552.00,278.70" fill="none" stroke="#0000ff" stroke-width="1.1"/>
<line x1="513.00" y1="352.50" x2="552.20" y2="352.50" stroke="#45c07c" stroke-width="1.1" />
<text y="301.0" fill="#0000ff" font-size="14.4" font-family="Liberation Serif, serif"><tspan x="462.4" font-style="italic" font-size="15.5">θ</tspan><tspan x="471.5">=</tspan><tspan x="480.0">84.6°</tspan></text>
<line x1="546.00" y1="314.40" x2="560.00" y2="314.40" stroke="#0000ff" stroke-width="1.3" />
<path d="M558.4,311.2 L566.1,314.4 L558.4,317.9 Z" fill="#0000ff"/>
<text x="516.4" y="383.4" font-size="12" fill="#1ca452" font-family="Liberation Serif, serif">tip E<tspan font-size="8" dy="2.6">F</tspan></text>
</svg></body></html>
